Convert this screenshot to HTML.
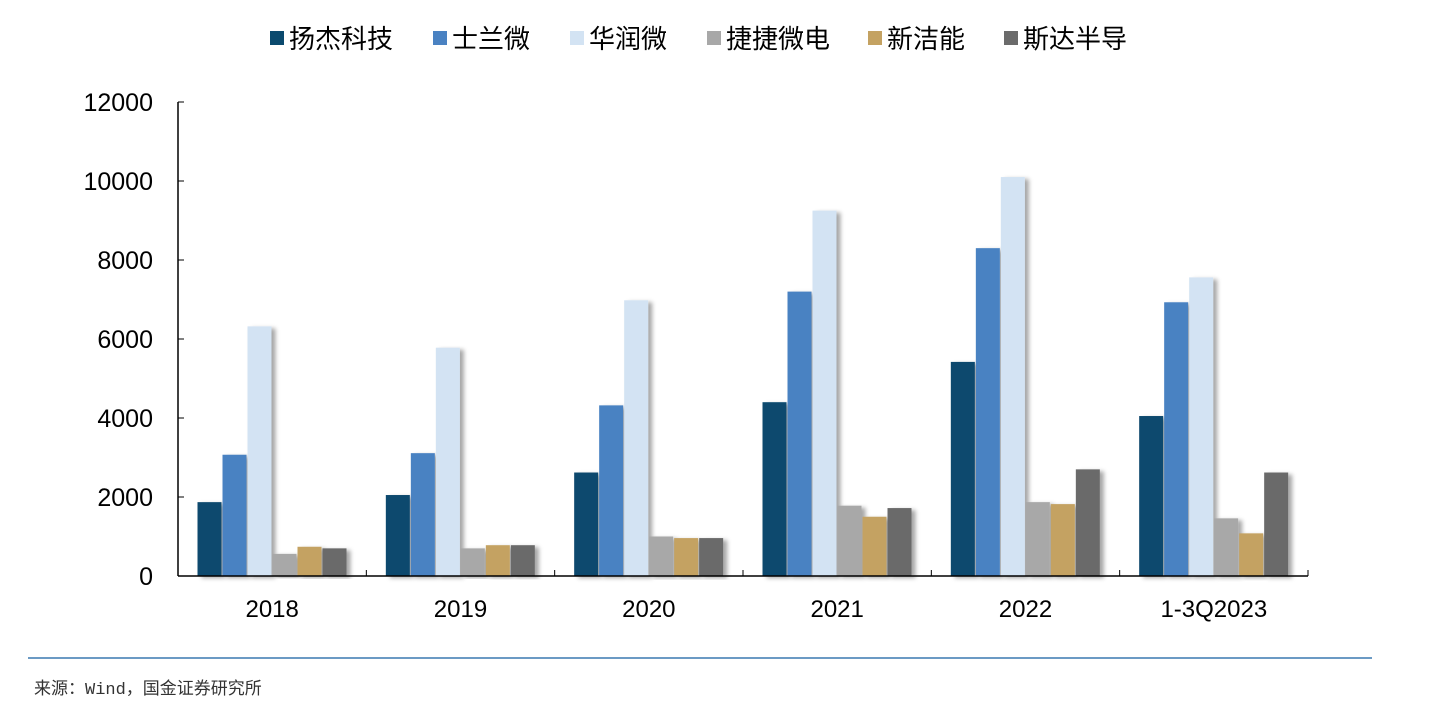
<!DOCTYPE html>
<html><head><meta charset="utf-8"><style>
body{margin:0;background:#fff;}
svg text{font-family:"Liberation Sans","Noto Sans CJK SC",sans-serif;}
</style></head><body>
<svg width="1445" height="703" viewBox="0 0 1445 703">
<defs><filter id="sh" x="-20%" y="-10%" width="160%" height="120%"><feDropShadow dx="4" dy="2" stdDeviation="2" flood-color="#000" flood-opacity="0.35"/></filter></defs>
<g id="legend"></g>
<g id="yaxis"></g>
<g id="bars"></g>
<g id="xaxis"></g>
<line x1="28" y1="658" x2="1372" y2="658" stroke="#3a78b0" stroke-width="1.5"/>
<text x="34" y="694" font-size="17" fill="#333" style="font-family:'Liberation Mono','Noto Sans CJK SC',monospace">来源：Wind，国金证券研究所</text>
</svg>
<script>
const categories=["2018","2019","2020","2021","2022","1-3Q2023"];
const seriesNames=["扬杰科技","士兰微","华润微","捷捷微电","新洁能","斯达半导"];
const s1=[1870,2050,2620,4400,5420,4050];
const s2=[3070,3110,4320,7200,8300,6930];
const s3=[6320,5780,6980,9250,10100,7560];
const s4=[560,700,1000,1780,1870,1460];
const s5=[740,780,960,1500,1820,1080];
const s6=[700,780,960,1720,2700,2620];
const yTicks=[0,2000,4000,6000,8000,10000,12000];
const series=[s1,s2,s3,s4,s5,s6];
const colors=["#0b4a6e","#4a82c2","#d3e3f3","#a8a8a8","#c4a262","#6b6b6b"];
const NS="http://www.w3.org/2000/svg";
const x0=178,x1=1308,yb=576,yt=102,ymax=12000;
const gw=(x1-x0)/categories.length;
const y=v=>yb-(v/ymax)*(yb-yt);
function mk(tag,attrs,parent){const e=document.createElementNS(NS,tag);for(const k in attrs)e.setAttribute(k,attrs[k]);parent.appendChild(e);return e;}
const ya=document.getElementById('yaxis'),xa=document.getElementById('xaxis'),bg=document.getElementById('bars'),lg=document.getElementById('legend');
mk('line',{x1:x0,y1:yt,x2:x0,y2:yb,stroke:'#000','stroke-width':1.5},ya);
yTicks.forEach(t=>{
  mk('line',{x1:x0,y1:y(t),x2:x0+6,y2:y(t),stroke:'#000'},ya);
  const tx=mk('text',{x:153,y:y(t)+9,'font-size':25,'text-anchor':'end',fill:'#000'},ya);
  
  
  tx.textContent=t;
});
mk('line',{x1:x0,y1:yb,x2:x1,y2:yb,stroke:'#000','stroke-width':1.5},xa);
categories.forEach((c,i)=>{
  const gx=x0+gw*i;
  mk('line',{x1:gx+gw,y1:yb,x2:gx+gw,y2:yb-6,stroke:'#000'},xa);
  const tx=mk('text',{x:gx+gw/2,y:617,'font-size':24,'text-anchor':'middle',fill:'#000'},xa);
  
  
  tx.textContent=c;
  series.forEach((s,j)=>{
    const bx=gx+19.5+j*25;
    const r=mk('rect',{x:bx,y:y(s[i]),width:24,height:yb-y(s[i]),fill:colors[j],filter:'url(#sh)'},bg);
    
    
  });
});
const lx=[270,433,570,707,868,1004];
seriesNames.forEach((n,j)=>{
  const g=mk('g',{},lg);
  
  
  mk('rect',{x:lx[j],y:31,width:14,height:14,fill:colors[j]},g);
  const t=mk('text',{x:lx[j]+19,y:48,'font-size':26,fill:'#000'},g);
  t.textContent=n;
});
</script>
</body></html>
